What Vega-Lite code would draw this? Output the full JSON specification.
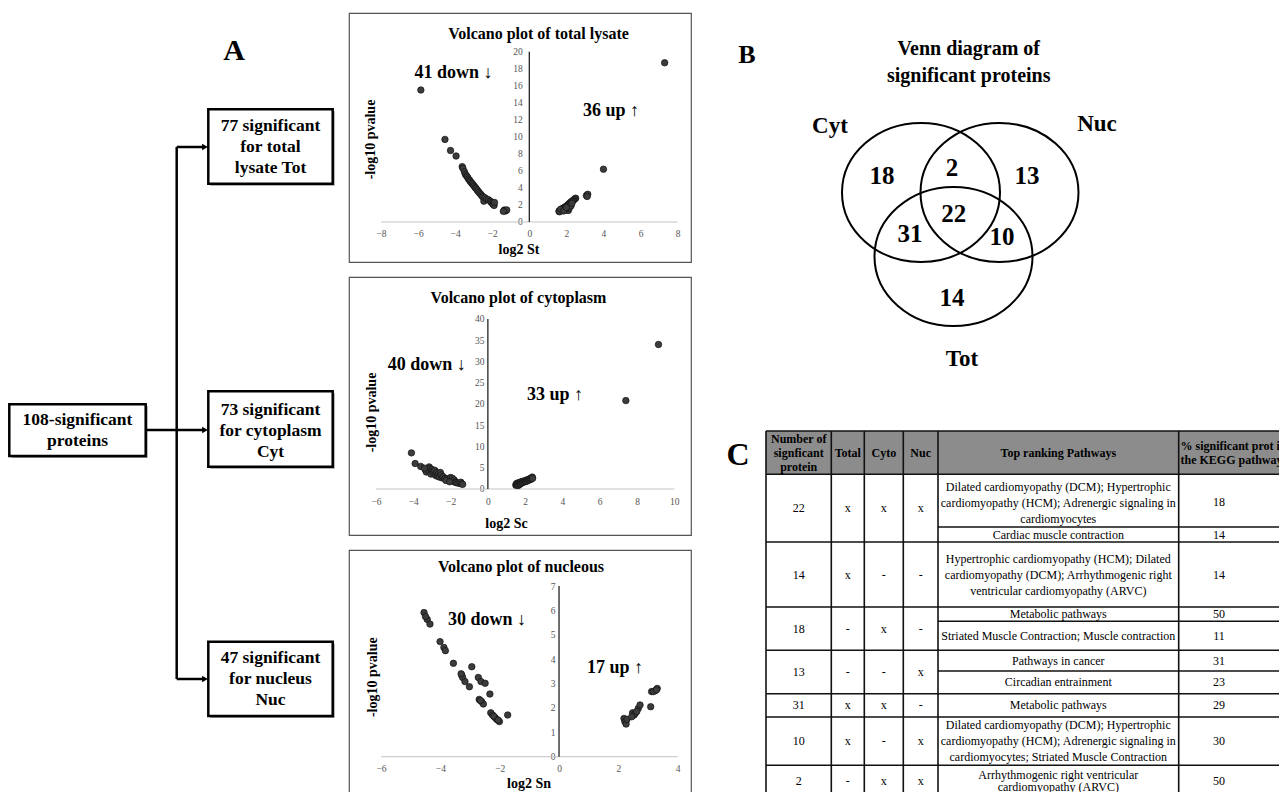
{
  "$schema": "https://vega.github.io/schema/vega-lite/v6.json",
  "background": "white",
  "padding": {"left": 0, "top": 12, "right": 0, "bottom": 0},
  "spacing": 8,
  "config": {
    "font": "Liberation Serif",
    "view": {"stroke": null},
    "axis": {
      "domain": false, "ticks": false, "tickSize": 0, "grid": false, "tickCount": 50, "format": "d",
      "labelFlush": false, "labelOverlap": false, "labelFontSize": 9.5, "labelColor": "#555555",
      "labelFont": "Liberation Serif", "titleFont": "Liberation Serif",
      "titleFontSize": 14, "titleFontWeight": "bold", "titleColor": "#000000",
      "titleAlign": "center", "titleBaseline": "middle"
    }
  },
  "hconcat": [
    {
      "width": 340,
      "height": 778,
      "layer": [
        {
          "data": {"values": [
            {"box": "all", "x1": 0.93, "x2": 14.57, "y1": 39.13, "y2": 44.3},
            {"box": "Tot", "x1": 20.83, "x2": 33.27, "y1": 9.63, "y2": 17.07},
            {"box": "Cyt", "x1": 20.83, "x2": 33.27, "y1": 37.83, "y2": 45.37},
            {"box": "Nuc", "x1": 20.83, "x2": 33.27, "y1": 62.87, "y2": 70.3}
          ]},
          "mark": {"type": "rect", "fill": "#9a9a9a", "xOffset": 2, "x2Offset": 2, "yOffset": 2, "y2Offset": 2},
          "encoding": {
            "x": {"field": "x1", "type": "quantitative", "scale": {"domain": [0, 34], "nice": false, "zero": false}, "axis": null},
            "x2": {"field": "x2"},
            "y": {"field": "y1", "type": "quantitative", "scale": {"domain": [0, 77.8], "nice": false, "zero": false, "reverse": true}, "axis": null},
            "y2": {"field": "y2"}
          }
        },
        {
          "data": {"values": [
            {"box": "all", "x1": 0.93, "x2": 14.57, "y1": 39.13, "y2": 44.3},
            {"box": "Tot", "x1": 20.83, "x2": 33.27, "y1": 9.63, "y2": 17.07},
            {"box": "Cyt", "x1": 20.83, "x2": 33.27, "y1": 37.83, "y2": 45.37},
            {"box": "Nuc", "x1": 20.83, "x2": 33.27, "y1": 62.87, "y2": 70.3}
          ]},
          "mark": {"type": "rect", "fill": "white", "stroke": "black", "strokeWidth": 2.5},
          "encoding": {
            "x": {"field": "x1", "type": "quantitative"},
            "x2": {"field": "x2"},
            "y": {"field": "y1", "type": "quantitative"},
            "y2": {"field": "y2"}
          }
        },
        {
          "data": {"values": [
            {"x1": 14.57, "x2": 20.4, "y1": 41.7, "y2": 41.7},
            {"x1": 17.67, "x2": 17.67, "y1": 13.4, "y2": 66.6},
            {"x1": 17.67, "x2": 20.4, "y1": 13.4, "y2": 13.4},
            {"x1": 17.67, "x2": 20.4, "y1": 66.6, "y2": 66.6}
          ]},
          "mark": {"type": "rule", "color": "black", "strokeWidth": 2.5},
          "encoding": {
            "x": {"field": "x1", "type": "quantitative"},
            "x2": {"field": "x2"},
            "y": {"field": "y1", "type": "quantitative"},
            "y2": {"field": "y2"}
          }
        },
        {
          "data": {"values": [
            {"x": 20.5, "y": 13.4},
            {"x": 20.5, "y": 41.7},
            {"x": 20.5, "y": 66.6}
          ]},
          "mark": {"type": "point", "shape": "triangle-right", "filled": true, "color": "black", "size": 45, "opacity": 1},
          "encoding": {
            "x": {"field": "x", "type": "quantitative"},
            "y": {"field": "y", "type": "quantitative"}
          }
        },
        {
          "data": {"values": [
            {"t": "108-significant\nproteins", "x": 7.75, "y": 40.67},
            {"t": "77 significant\nfor total\nlysate Tot", "x": 27.05, "y": 11.33},
            {"t": "73 significant\nfor cytoplasm\nCyt", "x": 27.05, "y": 39.66},
            {"t": "47 significant\nfor nucleus\nNuc", "x": 27.05, "y": 64.53}
          ]},
          "mark": {"type": "text", "fontSize": 17.5, "fontWeight": "bold", "lineBreak": "\n", "lineHeight": 21, "align": "center", "baseline": "middle", "color": "black"},
          "encoding": {
            "x": {"field": "x", "type": "quantitative"},
            "y": {"field": "y", "type": "quantitative"},
            "text": {"field": "t"}
          }
        },
        {
          "data": {"values": [{"t": "A", "x": 23.4, "y": 3.8}]},
          "mark": {"type": "text", "fontSize": 30, "fontWeight": "bold", "align": "center", "baseline": "middle", "color": "black"},
          "encoding": {
            "x": {"field": "x", "type": "quantitative"},
            "y": {"field": "y", "type": "quantitative"},
            "text": {"field": "t"}
          }
        }
      ]
    },
    {
      "spacing": 13,
      "vconcat": [
        {
          "width": 342,
          "height": 249,
          "view": {"stroke": "#555555", "strokeWidth": 1.2},
          "layer": [
            {
              "data": {"values": [{}]},
              "mark": {"type": "rule", "color": "#c4c4c4", "strokeWidth": 1},
              "encoding": {"x": {"datum": -8, "type": "quantitative"}, "x2": {"datum": 8}, "y": {"datum": 0, "type": "quantitative"}}
            },
            {
              "data": {"values": [{}]},
              "mark": {"type": "rule", "color": "#222222", "strokeWidth": 1.3},
              "encoding": {"x": {"datum": 0, "type": "quantitative"}, "y": {"datum": 0, "type": "quantitative"}, "y2": {"datum": 20}}
            },
            {
              "data": {"values": [
                {"x": -5.85, "y": 15.5}, {"x": -4.55, "y": 9.7}, {"x": -4.25, "y": 8.4}, {"x": -3.95, "y": 7.75},
                {"x": -3.62, "y": 6.5}, {"x": -3.58, "y": 6.3}, {"x": -3.5, "y": 5.9}, {"x": -3.45, "y": 5.6},
                {"x": -3.38, "y": 5.4}, {"x": -3.33, "y": 5.25}, {"x": -3.28, "y": 5.05}, {"x": -3.22, "y": 4.9},
                {"x": -3.18, "y": 4.75}, {"x": -3.12, "y": 4.6}, {"x": -3.08, "y": 4.5}, {"x": -3.02, "y": 4.35},
                {"x": -2.97, "y": 4.2}, {"x": -2.92, "y": 4.05}, {"x": -2.88, "y": 3.95}, {"x": -2.82, "y": 3.8},
                {"x": -2.78, "y": 3.65}, {"x": -2.72, "y": 3.5}, {"x": -2.66, "y": 3.35}, {"x": -2.6, "y": 3.2},
                {"x": -2.55, "y": 3.05}, {"x": -2.5, "y": 2.95}, {"x": -2.45, "y": 2.45}, {"x": -2.4, "y": 2.85},
                {"x": -2.3, "y": 2.7}, {"x": -2.2, "y": 2.6}, {"x": -2.1, "y": 2.45}, {"x": -2.05, "y": 2.3},
                {"x": -1.98, "y": 2.2}, {"x": -1.95, "y": 2.05}, {"x": -1.9, "y": 1.95}, {"x": -1.88, "y": 2.3},
                {"x": -1.35, "y": 1.4}, {"x": -1.3, "y": 1.3}, {"x": -1.25, "y": 1.35}, {"x": -1.22, "y": 1.42},
                {"x": -1.4, "y": 1.25},
                {"x": 7.3, "y": 18.7}, {"x": 4.0, "y": 6.2}, {"x": 3.08, "y": 3.1}, {"x": 3.15, "y": 3.25},
                {"x": 3.12, "y": 3.0}, {"x": 2.5, "y": 2.8}, {"x": 2.45, "y": 2.7}, {"x": 2.4, "y": 2.6},
                {"x": 2.35, "y": 2.5}, {"x": 2.3, "y": 2.45}, {"x": 2.25, "y": 2.35}, {"x": 2.2, "y": 2.25},
                {"x": 2.15, "y": 2.15}, {"x": 2.1, "y": 2.05}, {"x": 2.05, "y": 1.95}, {"x": 2.0, "y": 1.85},
                {"x": 1.95, "y": 1.8}, {"x": 1.9, "y": 1.7}, {"x": 1.85, "y": 1.65}, {"x": 1.8, "y": 1.6},
                {"x": 1.78, "y": 1.5}, {"x": 1.72, "y": 1.45}, {"x": 1.68, "y": 1.4}, {"x": 1.65, "y": 1.35},
                {"x": 1.62, "y": 1.3}, {"x": 1.6, "y": 1.25}, {"x": 1.63, "y": 1.2}, {"x": 1.7, "y": 1.5},
                {"x": 2.05, "y": 1.4}, {"x": 2.1, "y": 1.35}, {"x": 2.15, "y": 1.6}, {"x": 1.95, "y": 1.55},
                {"x": 2.25, "y": 1.9}, {"x": 1.85, "y": 1.3}, {"x": 2.0, "y": 1.7}, {"x": 2.3, "y": 2.2}
              ]},
              "mark": {"type": "point", "filled": true, "fill": "#3c3c3c", "stroke": "#111111", "strokeWidth": 0.7, "size": 42, "opacity": 1},
              "encoding": {
                "x": {"field": "x", "type": "quantitative",
                  "scale": {"domain": [-9.726, 8.721], "nice": false, "zero": false},
                  "axis": {"values": [-8, -6, -4, -2, 0, 2, 4, 6, 8], "tickCount": 50, "format": "d", "offset": -40, "labelPadding": 6, "labelOverlap": false,
                    "title": "log2 St", "titleX": 169.5, "titleY": 27}},
                "y": {"field": "y", "type": "quantitative",
                  "scale": {"domain": [-4.698, 24.545], "nice": false, "zero": false},
                  "axis": {"values": [0, 2, 4, 6, 8, 10, 12, 14, 16, 18, 20], "tickCount": 50, "format": "d", "offset": -180.3, "labelPadding": 7, "labelOverlap": false,
                    "title": "-log10 pvalue", "titleX": -159.3, "titleY": 126, "titleAngle": -90}}
              }
            },
            {
              "data": {"values": [
                {"label": "41 down ↓", "x": -4.09, "y": 17.53},
                {"label": "36 up ↑", "x": 4.41, "y": 13.04}
              ]},
              "mark": {"type": "text", "fontSize": 18, "fontWeight": "bold", "align": "center", "baseline": "middle", "color": "black"},
              "encoding": {
                "x": {"field": "x", "type": "quantitative"},
                "y": {"field": "y", "type": "quantitative"},
                "text": {"field": "label"}
              }
            },
            {
              "data": {"values": [{"label": "Volcano plot of total lysate", "x": 0.495, "y": 22.08}]},
              "mark": {"type": "text", "fontSize": 16, "fontWeight": "bold", "align": "center", "baseline": "middle", "color": "black"},
              "encoding": {
                "x": {"field": "x", "type": "quantitative"},
                "y": {"field": "y", "type": "quantitative"},
                "text": {"field": "label"}
              }
            }
          ]
        },
        {
          "width": 342,
          "height": 258,
          "view": {"stroke": "#555555", "strokeWidth": 1.2},
          "layer": [
            {
              "data": {"values": [{}]},
              "mark": {"type": "rule", "color": "#c4c4c4", "strokeWidth": 1},
              "encoding": {"x": {"datum": -6, "type": "quantitative"}, "x2": {"datum": 10}, "y": {"datum": 0, "type": "quantitative"}}
            },
            {
              "data": {"values": [{}]},
              "mark": {"type": "rule", "color": "#222222", "strokeWidth": 1.3},
              "encoding": {"x": {"datum": 0, "type": "quantitative"}, "y": {"datum": 0, "type": "quantitative"}, "y2": {"datum": 40}}
            },
            {
              "data": {"values": [
                {"x": -4.1, "y": 8.5}, {"x": -3.9, "y": 6.0}, {"x": -3.6, "y": 5.3}, {"x": -3.35, "y": 4.5},
                {"x": -3.3, "y": 4.0}, {"x": -3.2, "y": 4.4}, {"x": -3.15, "y": 5.2}, {"x": -3.1, "y": 4.8},
                {"x": -3.05, "y": 3.5}, {"x": -3.0, "y": 4.6}, {"x": -2.95, "y": 4.2}, {"x": -2.9, "y": 3.8},
                {"x": -2.85, "y": 4.4}, {"x": -2.8, "y": 3.2}, {"x": -2.75, "y": 3.9}, {"x": -2.7, "y": 3.0},
                {"x": -2.65, "y": 3.6}, {"x": -2.6, "y": 2.8}, {"x": -2.55, "y": 3.9}, {"x": -2.5, "y": 3.3},
                {"x": -2.45, "y": 2.6}, {"x": -2.4, "y": 2.9}, {"x": -2.3, "y": 2.5}, {"x": -2.2, "y": 2.4},
                {"x": -2.1, "y": 2.2}, {"x": -2.0, "y": 2.7}, {"x": -1.95, "y": 2.0}, {"x": -1.9, "y": 2.5},
                {"x": -1.85, "y": 1.8}, {"x": -1.8, "y": 2.1}, {"x": -1.75, "y": 1.6}, {"x": -1.7, "y": 1.5},
                {"x": -1.6, "y": 1.4}, {"x": -1.5, "y": 1.3}, {"x": -1.45, "y": 1.6}, {"x": -1.4, "y": 1.2},
                {"x": -1.35, "y": 1.1}, {"x": -2.25, "y": 2.0}, {"x": -2.05, "y": 1.7}, {"x": -3.4, "y": 4.9},
                {"x": 9.15, "y": 34.0}, {"x": 7.4, "y": 20.8},
                {"x": 1.5, "y": 0.9}, {"x": 1.52, "y": 1.2}, {"x": 1.55, "y": 1.0}, {"x": 1.58, "y": 1.4},
                {"x": 1.6, "y": 1.1}, {"x": 1.62, "y": 0.8}, {"x": 1.65, "y": 1.3}, {"x": 1.68, "y": 1.0},
                {"x": 1.7, "y": 1.5}, {"x": 1.72, "y": 1.2}, {"x": 1.75, "y": 1.6}, {"x": 1.78, "y": 1.3},
                {"x": 1.8, "y": 1.7}, {"x": 1.85, "y": 1.5}, {"x": 1.88, "y": 1.8}, {"x": 1.9, "y": 1.6},
                {"x": 1.95, "y": 1.9}, {"x": 2.0, "y": 1.7}, {"x": 2.02, "y": 2.0}, {"x": 2.05, "y": 1.8},
                {"x": 2.1, "y": 2.1}, {"x": 2.12, "y": 1.9}, {"x": 2.15, "y": 2.2}, {"x": 2.2, "y": 2.3},
                {"x": 2.22, "y": 2.1}, {"x": 2.25, "y": 2.4}, {"x": 2.3, "y": 2.5}, {"x": 2.32, "y": 2.3},
                {"x": 2.35, "y": 2.6}, {"x": 2.38, "y": 2.8}, {"x": 2.4, "y": 2.5}
              ]},
              "mark": {"type": "point", "filled": true, "fill": "#3c3c3c", "stroke": "#111111", "strokeWidth": 0.7, "size": 42, "opacity": 1},
              "encoding": {
                "x": {"field": "x", "type": "quantitative",
                  "scale": {"domain": [-7.448, 10.894], "nice": false, "zero": false},
                  "axis": {"values": [-6, -4, -2, 0, 2, 4, 6, 8, 10], "tickCount": 50, "format": "d", "offset": -46, "labelPadding": 7, "labelOverlap": false,
                    "title": "log2 Sc", "titleX": 157, "titleY": 34}},
                "y": {"field": "y", "type": "quantitative",
                  "scale": {"domain": [-10.824, 49.882], "nice": false, "zero": false},
                  "axis": {"values": [0, 5, 10, 15, 20, 25, 30, 35, 40], "tickCount": 50, "format": "d", "offset": -138.9, "labelPadding": 4, "labelOverlap": false,
                    "title": "-log10 pvalue", "titleX": -116, "titleY": 135, "titleAngle": -90}}
              }
            },
            {
              "data": {"values": [
                {"label": "40 down ↓", "x": -3.28, "y": 29.25},
                {"label": "33 up ↑", "x": 3.6, "y": 22.2}
              ]},
              "mark": {"type": "text", "fontSize": 18, "fontWeight": "bold", "align": "center", "baseline": "middle", "color": "black"},
              "encoding": {
                "x": {"field": "x", "type": "quantitative"},
                "y": {"field": "y", "type": "quantitative"},
                "text": {"field": "label"}
              }
            },
            {
              "data": {"values": [{"label": "Volcano plot of cytoplasm", "x": 1.642, "y": 44.94}]},
              "mark": {"type": "text", "fontSize": 16, "fontWeight": "bold", "align": "center", "baseline": "middle", "color": "black"},
              "encoding": {
                "x": {"field": "x", "type": "quantitative"},
                "y": {"field": "y", "type": "quantitative"},
                "text": {"field": "label"}
              }
            }
          ]
        },
        {
          "width": 342,
          "height": 245,
          "view": {"stroke": "#555555", "strokeWidth": 1.2},
          "layer": [
            {
              "data": {"values": [{}]},
              "mark": {"type": "rule", "color": "#c4c4c4", "strokeWidth": 1},
              "encoding": {"x": {"datum": -6, "type": "quantitative"}, "x2": {"datum": 4}, "y": {"datum": 0, "type": "quantitative"}}
            },
            {
              "data": {"values": [{}]},
              "mark": {"type": "rule", "color": "#222222", "strokeWidth": 1.3},
              "encoding": {"x": {"datum": 0, "type": "quantitative"}, "y": {"datum": 0, "type": "quantitative"}, "y2": {"datum": 7}}
            },
            {
              "data": {"values": [
                {"x": -4.55, "y": 5.91}, {"x": -4.44, "y": 5.63}, {"x": -4.35, "y": 5.44}, {"x": -4.01, "y": 4.72},
                {"x": -3.88, "y": 4.48}, {"x": -3.83, "y": 4.35}, {"x": -3.56, "y": 3.83}, {"x": -3.28, "y": 3.35},
                {"x": -3.25, "y": 3.25}, {"x": -3.17, "y": 3.08}, {"x": -3.02, "y": 2.87}, {"x": -2.94, "y": 3.69},
                {"x": -2.72, "y": 3.25}, {"x": -2.63, "y": 3.08}, {"x": -2.49, "y": 3.01}, {"x": -2.69, "y": 2.35},
                {"x": -2.61, "y": 2.26}, {"x": -2.55, "y": 2.16}, {"x": -2.33, "y": 2.57}, {"x": -2.3, "y": 1.8},
                {"x": -2.24, "y": 1.71}, {"x": -2.16, "y": 1.61}, {"x": -2.1, "y": 1.53}, {"x": -2.01, "y": 1.44},
                {"x": -1.73, "y": 1.71}, {"x": -4.5, "y": 5.75}, {"x": -3.3, "y": 3.4}, {"x": -2.65, "y": 2.3},
                {"x": -2.2, "y": 1.66}, {"x": -2.05, "y": 1.5},
                {"x": 2.19, "y": 1.57}, {"x": 2.22, "y": 1.44}, {"x": 2.26, "y": 1.34}, {"x": 2.48, "y": 1.8},
                {"x": 2.53, "y": 1.71}, {"x": 2.57, "y": 1.78}, {"x": 2.67, "y": 1.98}, {"x": 2.73, "y": 2.12},
                {"x": 3.09, "y": 2.05}, {"x": 3.12, "y": 2.67}, {"x": 3.24, "y": 2.71}, {"x": 3.31, "y": 2.8},
                {"x": 2.29, "y": 1.53}, {"x": 2.45, "y": 1.64}, {"x": 2.62, "y": 1.85}, {"x": 3.18, "y": 2.67},
                {"x": 3.28, "y": 2.74}
              ]},
              "mark": {"type": "point", "filled": true, "fill": "#3c3c3c", "stroke": "#111111", "strokeWidth": 0.7, "size": 42, "opacity": 1},
              "encoding": {
                "x": {"field": "x", "type": "quantitative",
                  "scale": {"domain": [-7.0785, 4.448], "nice": false, "zero": false},
                  "axis": {"values": [-6, -4, -2, 0, 2, 4], "tickCount": 50, "format": "d", "offset": -38.3, "labelPadding": 7, "labelOverlap": false,
                    "title": "log2 Sn", "titleX": 179.5, "titleY": 26.6}},
                "y": {"field": "y", "type": "quantitative",
                  "scale": {"domain": [-1.571, 8.478], "nice": false, "zero": false},
                  "axis": {"values": [0, 1, 2, 3, 4, 5, 6, 7], "tickCount": 50, "format": "d", "offset": -210, "labelPadding": 4, "labelOverlap": false,
                    "title": "-log10 pvalue", "titleX": -187, "titleY": 126.7, "titleAngle": -90}}
              }
            },
            {
              "data": {"values": [
                {"label": "30 down ↓", "x": -2.43, "y": 5.61},
                {"label": "17 up ↑", "x": 1.89, "y": 3.63}
              ]},
              "mark": {"type": "text", "fontSize": 18, "fontWeight": "bold", "align": "center", "baseline": "middle", "color": "black"},
              "encoding": {
                "x": {"field": "x", "type": "quantitative"},
                "y": {"field": "y", "type": "quantitative"},
                "text": {"field": "label"}
              }
            },
            {
              "data": {"values": [{"label": "Volcano plot of nucleous", "x": -1.281, "y": 7.8}]},
              "mark": {"type": "text", "fontSize": 16, "fontWeight": "bold", "align": "center", "baseline": "middle", "color": "black"},
              "encoding": {
                "x": {"field": "x", "type": "quantitative"},
                "y": {"field": "y", "type": "quantitative"},
                "text": {"field": "label"}
              }
            }
          ]
        }
      ]
    },
    {
      "spacing": 10,
      "vconcat": [
        {
          "width": 579,
          "height": 407,
          "layer": [
            {
              "data": {"values": [
                {"set": "Cyt", "x": 22.1, "y": 17.95},
                {"set": "Nuc", "x": 29.95, "y": 17.95},
                {"set": "Tot", "x": 25.35, "y": 24.35}
              ]},
              "mark": {"type": "point", "shape": "M-1,0A1,0.88,0,1,0,1,0A1,0.88,0,1,0,-1,0Z", "filled": false, "stroke": "black", "strokeWidth": 2, "size": 24964, "opacity": 1},
              "encoding": {
                "x": {"field": "x", "type": "quantitative", "scale": {"domain": [0, 57.9], "nice": false, "zero": false}, "axis": null},
                "y": {"field": "y", "type": "quantitative", "scale": {"domain": [0, 40.7], "nice": false, "zero": false, "reverse": true}, "axis": null}
              }
            },
            {
              "data": {"values": [
                {"t": "18", "x": 18.2, "y": 16.3},
                {"t": "2", "x": 25.2, "y": 15.47},
                {"t": "13", "x": 32.7, "y": 16.3},
                {"t": "22", "x": 25.37, "y": 20.1},
                {"t": "31", "x": 21.0, "y": 22.1},
                {"t": "10", "x": 30.2, "y": 22.4},
                {"t": "14", "x": 25.2, "y": 28.47}
              ]},
              "mark": {"type": "text", "fontSize": 25, "fontWeight": "bold", "align": "center", "baseline": "middle", "color": "black"},
              "encoding": {
                "x": {"field": "x", "type": "quantitative"},
                "y": {"field": "y", "type": "quantitative"},
                "text": {"field": "t"}
              }
            },
            {
              "data": {"values": [
                {"t": "Cyt", "x": 13.0, "y": 11.3},
                {"t": "Nuc", "x": 39.7, "y": 11.1},
                {"t": "Tot", "x": 26.2, "y": 34.6}
              ]},
              "mark": {"type": "text", "fontSize": 23, "fontWeight": "bold", "align": "center", "baseline": "middle", "color": "black"},
              "encoding": {
                "x": {"field": "x", "type": "quantitative"},
                "y": {"field": "y", "type": "quantitative"},
                "text": {"field": "t"}
              }
            },
            {
              "data": {"values": [
                {"t": "Venn diagram of", "x": 26.87, "y": 3.6},
                {"t": "significant proteins", "x": 26.87, "y": 6.3}
              ]},
              "mark": {"type": "text", "fontSize": 20, "fontWeight": "bold", "align": "center", "baseline": "middle", "color": "black"},
              "encoding": {
                "x": {"field": "x", "type": "quantitative"},
                "y": {"field": "y", "type": "quantitative"},
                "text": {"field": "t"}
              }
            },
            {
              "data": {"values": [{"t": "B", "x": 4.7, "y": 4.15}]},
              "mark": {"type": "text", "fontSize": 26, "fontWeight": "bold", "align": "center", "baseline": "middle", "color": "black"},
              "encoding": {
                "x": {"field": "x", "type": "quantitative"},
                "y": {"field": "y", "type": "quantitative"},
                "text": {"field": "t"}
              }
            }
          ]
        },
        {
          "width": 579,
          "height": 363,
          "layer": [
            {
              "data": {"values": [{"x1": 6.6, "x2": 57.9, "y1": 0, "y2": 4.33}]},
              "mark": {"type": "rect", "fill": "#8c8c8c"},
              "encoding": {
                "x": {"field": "x1", "type": "quantitative", "scale": {"domain": [0, 57.9], "nice": false, "zero": false}, "axis": null},
                "x2": {"field": "x2"},
                "y": {"field": "y1", "type": "quantitative", "scale": {"domain": [0, 36.3], "nice": false, "zero": false, "reverse": true}, "axis": null},
                "y2": {"field": "y2"}
              }
            },
            {
              "data": {"values": [
                {"x1": 6.6, "x2": 57.9, "y1": 0, "y2": 0},
                {"x1": 6.6, "x2": 57.9, "y1": 4.33, "y2": 4.33},
                {"x1": 23.8, "x2": 57.9, "y1": 9.6, "y2": 9.6},
                {"x1": 6.6, "x2": 57.9, "y1": 11.1, "y2": 11.1},
                {"x1": 6.6, "x2": 57.9, "y1": 17.6, "y2": 17.6},
                {"x1": 23.8, "x2": 57.9, "y1": 19.03, "y2": 19.03},
                {"x1": 6.6, "x2": 57.9, "y1": 21.93, "y2": 21.93},
                {"x1": 23.8, "x2": 57.9, "y1": 24.0, "y2": 24.0},
                {"x1": 6.6, "x2": 57.9, "y1": 26.27, "y2": 26.27},
                {"x1": 6.6, "x2": 57.9, "y1": 28.6, "y2": 28.6},
                {"x1": 6.6, "x2": 57.9, "y1": 33.43, "y2": 33.43},
                {"x1": 6.6, "x2": 6.6, "y1": 0, "y2": 36.3},
                {"x1": 13.13, "x2": 13.13, "y1": 0, "y2": 36.3},
                {"x1": 16.43, "x2": 16.43, "y1": 0, "y2": 36.3},
                {"x1": 20.33, "x2": 20.33, "y1": 0, "y2": 36.3},
                {"x1": 23.8, "x2": 23.8, "y1": 0, "y2": 36.3},
                {"x1": 47.87, "x2": 47.87, "y1": 0, "y2": 36.3}
              ]},
              "mark": {"type": "rule", "color": "#111111", "strokeWidth": 1.6},
              "encoding": {
                "x": {"field": "x1", "type": "quantitative"},
                "x2": {"field": "x2"},
                "y": {"field": "y1", "type": "quantitative"},
                "y2": {"field": "y2"}
              }
            },
            {
              "data": {"values": [
                {"t": "Number of\nsignficant\nprotein", "x": 9.87, "y": 0.77},
                {"t": "Total", "x": 14.78, "y": 2.17},
                {"t": "Cyto", "x": 18.38, "y": 2.17},
                {"t": "Nuc", "x": 22.07, "y": 2.17},
                {"t": "Top ranking Pathways", "x": 35.83, "y": 2.17}
              ]},
              "mark": {"type": "text", "fontSize": 12, "fontWeight": "bold", "lineBreak": "\n", "lineHeight": 14, "align": "center", "baseline": "middle", "color": "black"},
              "encoding": {
                "x": {"field": "x", "type": "quantitative"},
                "y": {"field": "y", "type": "quantitative"},
                "text": {"field": "t"}
              }
            },
            {
              "data": {"values": [
                {"t": "% significant prot in\nthe KEGG pathway", "x": 48.05, "y": 1.47}
              ]},
              "mark": {"type": "text", "fontSize": 12, "fontWeight": "bold", "lineBreak": "\n", "lineHeight": 14, "align": "left", "baseline": "middle", "color": "black", "clip": true},
              "encoding": {
                "x": {"field": "x", "type": "quantitative"},
                "y": {"field": "y", "type": "quantitative"},
                "text": {"field": "t"}
              }
            },
            {
              "data": {"values": [
                {"t": "22", "x": 9.87, "y": 7.72}, {"t": "x", "x": 14.78, "y": 7.72}, {"t": "x", "x": 18.38, "y": 7.72}, {"t": "x", "x": 22.07, "y": 7.72},
                {"t": "Dilated cardiomyopathy (DCM); Hypertrophic\ncardiomyopathy (HCM); Adrenergic signaling in\ncardiomyocytes", "x": 35.83, "y": 5.55},
                {"t": "18", "x": 51.9, "y": 7.1},
                {"t": "Cardiac muscle contraction", "x": 35.83, "y": 10.35},
                {"t": "14", "x": 51.9, "y": 10.35},
                {"t": "14", "x": 9.87, "y": 14.35}, {"t": "x", "x": 14.78, "y": 14.35}, {"t": "-", "x": 18.38, "y": 14.35}, {"t": "-", "x": 22.07, "y": 14.35},
                {"t": "Hypertrophic cardiomyopathy (HCM); Dilated\ncardiomyopathy (DCM); Arrhythmogenic right\nventricular cardiomyopathy (ARVC)", "x": 35.83, "y": 12.75},
                {"t": "14", "x": 51.9, "y": 14.35},
                {"t": "18", "x": 9.87, "y": 19.77}, {"t": "-", "x": 14.78, "y": 19.77}, {"t": "x", "x": 18.38, "y": 19.77}, {"t": "-", "x": 22.07, "y": 19.77},
                {"t": "Metabolic pathways", "x": 35.83, "y": 18.32},
                {"t": "50", "x": 51.9, "y": 18.32},
                {"t": "Striated Muscle Contraction; Muscle contraction", "x": 35.83, "y": 20.48},
                {"t": "11", "x": 51.9, "y": 20.48},
                {"t": "13", "x": 9.87, "y": 24.1}, {"t": "-", "x": 14.78, "y": 24.1}, {"t": "-", "x": 18.38, "y": 24.1}, {"t": "x", "x": 22.07, "y": 24.1},
                {"t": "Pathways in cancer", "x": 35.83, "y": 22.97},
                {"t": "31", "x": 51.9, "y": 22.97},
                {"t": "Circadian entrainment", "x": 35.83, "y": 25.13},
                {"t": "23", "x": 51.9, "y": 25.13},
                {"t": "31", "x": 9.87, "y": 27.43}, {"t": "x", "x": 14.78, "y": 27.43}, {"t": "x", "x": 18.38, "y": 27.43}, {"t": "-", "x": 22.07, "y": 27.43},
                {"t": "Metabolic pathways", "x": 35.83, "y": 27.43},
                {"t": "29", "x": 51.9, "y": 27.43},
                {"t": "10", "x": 9.87, "y": 31.0}, {"t": "x", "x": 14.78, "y": 31.0}, {"t": "-", "x": 18.38, "y": 31.0}, {"t": "x", "x": 22.07, "y": 31.0},
                {"t": "Dilated cardiomyopathy (DCM); Hypertrophic\ncardiomyopathy (HCM); Adrenergic signaling in\ncardiomyocytes; Striated Muscle Contraction", "x": 35.83, "y": 29.4},
                {"t": "30", "x": 51.9, "y": 31.0},
                {"t": "2", "x": 9.87, "y": 35.0}, {"t": "-", "x": 14.78, "y": 35.0}, {"t": "x", "x": 18.38, "y": 35.0}, {"t": "x", "x": 22.07, "y": 35.0},
                {"t": "Arrhythmogenic right ventricular", "x": 35.83, "y": 34.35},
                {"t": "cardiomyopathy (ARVC)", "x": 35.83, "y": 35.55},
                {"t": "50", "x": 51.9, "y": 35.0}
              ]},
              "mark": {"type": "text", "fontSize": 12, "lineBreak": "\n", "lineHeight": 16, "align": "center", "baseline": "middle", "color": "black", "clip": true},
              "encoding": {
                "x": {"field": "x", "type": "quantitative"},
                "y": {"field": "y", "type": "quantitative"},
                "text": {"field": "t"}
              }
            },
            {
              "data": {"values": [{"t": "C", "x": 3.8, "y": 2.4}]},
              "mark": {"type": "text", "fontSize": 32, "fontWeight": "bold", "align": "center", "baseline": "middle", "color": "black"},
              "encoding": {
                "x": {"field": "x", "type": "quantitative"},
                "y": {"field": "y", "type": "quantitative"},
                "text": {"field": "t"}
              }
            }
          ]
        }
      ]
    }
  ]
}
